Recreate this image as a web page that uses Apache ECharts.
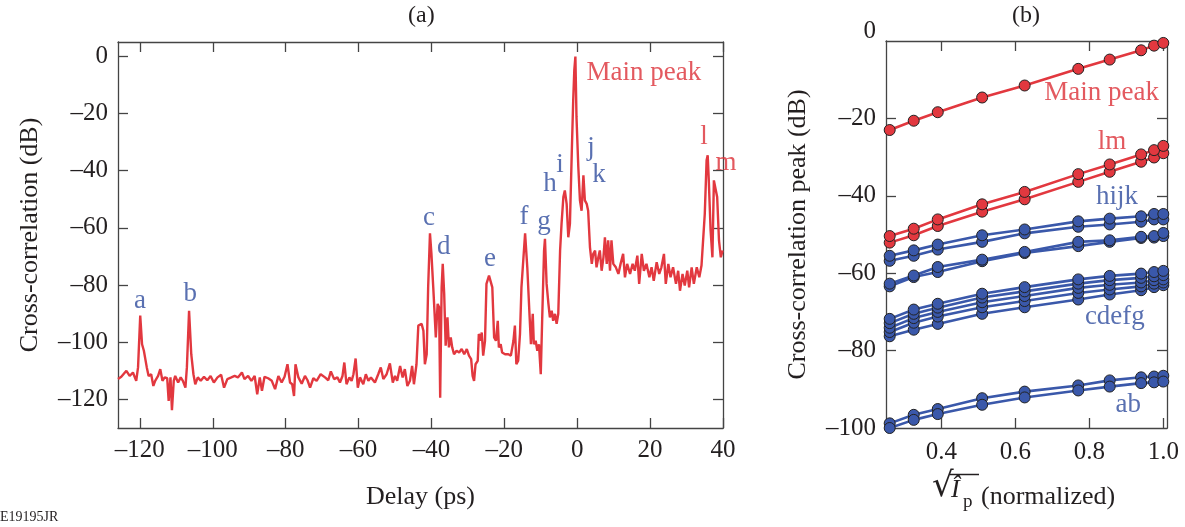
<!DOCTYPE html>
<html>
<head>
<meta charset="utf-8">
<script src="https://cdn.jsdelivr.net/npm/echarts@6/dist/echarts.min.js"></script>
<style>
  html, body { margin: 0; padding: 0; background: #fff; }
  #chart { width: 1185px; height: 527px; }
</style>
</head>
<body>
<div id="chart"></div>
<script>
// (a) cross-correlation trace
const delayPs = [
  -126, -125.1, -123.7, -122.8, -121.9, -121.0, -120.5, -119.9, -119.4, -118.9,
  -118.5, -118.1, -117.6, -116.9, -116.3, -115.8, -115.0, -114.4, -113.8, -113.2,
  -112.5, -112.1, -111.6, -111.2, -110.7, -110.3, -109.5, -108.8, -108.2, -107.5,
  -107.1, -106.5, -105.9, -105.3, -104.8, -104.1, -103.3, -102.4, -101.5, -100.6,
  -99.7, -98.7, -97.7, -96.9, -96.0, -94.9, -94.0, -93.1, -92.0, -91.3,
  -90.3, -89.4, -88.5, -87.8, -87.1, -86.5, -85.8, -84.8,
  -83.8, -82.9, -82.0, -81.1, -80.3, -79.5, -78.8, -78.2, -77.7, -77.3,
  -76.5, -75.6, -74.7, -74.0, -73.3, -72.4, -71.5, -70.4, -69.2, -68.3,
  -67.6, -66.7, -65.8, -65.1, -64.4, -63.9, -63.3, -62.5, -61.9, -61.4,
  -60.8, -60.2, -59.6, -58.7, -58.0, -57.3, -56.6, -55.5, -54.6, -53.9,
  -53.2, -52.3, -51.4, -50.6, -50.0, -49.4, -48.6, -47.9, -47.3, -46.6,
  -45.9, -45.3,
  -44.8, -44.1, -43.6, -43.1, -42.7, -42.2, -41.8, -41.3, -40.9, -40.4,
  -40.0, -39.5, -38.8, -38.3, -37.9, -37.6, -37.2, -36.9, -36.5, -36.1,
  -35.6, -35.2, -34.7, -34.3, -33.8, -33.1, -32.4, -31.7, -31.0, -30.3,
  -29.7, -29.1, -28.7, -28.3, -27.9, -27.3, -27.0, -26.5, -26.2, -25.8,
  -25.3, -24.9, -24.2, -23.7, -23.3, -22.8, -22.3, -21.8, -21.5, -21.0,
  -20.6, -19.8, -18.9, -18.2, -17.5, -17.1, -16.7, -16.2, -15.7, -15.3,
  -14.3, -13.7, -13.1, -12.7, -12.2, -11.9, -11.4, -10.95, -10.5, -10.0,
  -9.6, -9.1, -8.85, -8.4, -7.9, -7.5, -7.0, -6.6, -6.1, -5.65,
  -5.2, -4.7, -4.3, -3.8, -3.4, -2.9, -2.45, -2.0, -1.5, -1.1,
  -0.8, -0.5, -0.2, 0.3, 0.75, 1.2, 1.7, 2.1, 2.6, 3.0,
  3.5, 4.0, 4.4, 4.9, 5.3, 5.8,
  6.2, 6.7, 7.2, 7.6, 8.1, 8.5, 9.0, 9.4, 9.9, 10.6,
  11.3, 11.9, 12.6, 13.1, 13.7, 14.5, 15.2, 15.8, 16.5, 17.0,
  17.7, 18.3, 19.0, 19.8, 20.4, 21.0, 21.8, 22.5, 23.1, 23.8,
  24.3, 25.0, 25.6, 26.3, 27.1, 27.7, 28.2, 28.9, 29.5, 30.2,
  30.7, 31.4, 32.0, 32.8, 33.5, 34.1, 34.6, 35.0, 35.5, 35.8,
  36.1, 36.6, 37.1, 37.5, 38.0, 38.4, 38.9, 39.4, 39.9
];
const corrDb = [
  -112.9, -112.1, -110.0, -111.8, -110.6, -113.5, -108.8, -90.7, -100.7, -103.0,
  -102.8, -108.8, -111.8, -111.2, -115.3, -113.5, -111.8, -109.4, -113.5, -112.3,
  -112.6, -120.5, -112.3, -123.8, -113.5, -111.8, -114.1, -112.3, -113.5, -115.9,
  -108.8, -89.0, -104.2, -111.2, -114.7, -112.3, -113.5, -112.1, -113.3, -111.8,
  -114.1, -112.3, -111.4, -115.9, -112.9, -112.3, -111.8, -112.3, -110.6, -112.9,
  -111.8, -113.5, -111.8, -118.2, -112.3, -117.0, -112.1, -112.6,
  -113.5, -116.4, -111.8, -114.1, -112.1, -107.7, -114.1, -114.7, -118.8, -107.7,
  -112.3, -114.5, -111.8, -113.3, -115.9, -112.6, -113.5, -111.2, -112.3, -113.3,
  -110.2, -112.9, -112.3, -114.1, -111.8, -107.1, -114.7, -112.3, -113.5, -111.2,
  -105.7, -115.9, -112.3, -114.7, -111.2, -113.5, -112.3, -114.1, -111.2, -108.8,
  -112.9, -111.2, -107.4, -114.1, -111.8, -113.5, -108.3, -112.3, -109.4, -115.3,
  -113.5, -108.3,
  -114.7, -107.7, -94.2, -94.8, -93.6, -96.0, -107.7, -104.2, -80.8, -61.9,
  -69.1, -80.8, -98.3, -86.6, -87.8, -119.4, -80.8, -72.6, -83.1, -101.2,
  -91.3, -101.8, -98.3, -101.8, -104.2, -103.0, -103.6, -102.4, -104.2, -102.4,
  -104.7, -105.9, -111.8, -113.5, -107.7, -106.5, -97.1, -99.5, -96.6, -104.7,
  -99.5, -79.6, -76.7, -76.7, -80.8, -98.3, -99.5, -92.5, -101.8, -100.7,
  -103.6, -104.2, -104.2, -104.7, -99.5, -94.2, -107.7, -106.5, -97.1, -80.8,
  -61.9, -73.8, -90.1, -100.7, -90.1, -100.7, -99.5, -103.0, -100.7, -111.2,
  -91.3, -68.0, -63.8, -79.6, -86.6, -91.3, -89.0, -92.5, -90.1, -93.6,
  -90.1, -68.0, -58.6, -49.2, -46.9, -51.6, -63.3, -58.6, -34.0, -15.3,
  -4.8, -0.1, -21.2, -38.7, -50.4, -54.0, -41.6, -50.4, -51.6, -54.0,
  -66.8, -72.6, -69.1, -68.0, -73.8, -70.3,
  -67.9, -75.0, -70.3, -63.3, -72.6, -64.4, -75.0, -64.4, -72.6, -73.8,
  -76.1, -72.6, -69.1, -77.3, -72.6, -76.1, -72.6, -75.0, -69.7, -79.6,
  -69.1, -75.0, -72.6, -77.3, -73.8, -78.5, -72.0, -76.1, -73.8, -69.1,
  -79.6, -72.6, -77.3, -73.8, -79.6, -75.0, -82.0, -76.1, -80.2, -75.0,
  -80.8, -73.8, -79.6, -73.8, -77.3, -73.2, -72.6, -55.1, -36.4, -34.6,
  -43.4, -60.9, -70.3, -43.4, -42.8, -49.2, -64.4, -70.3, -67.9
];

// peak labels in (a): [name, delay, dB]
const peakLabelsBlue = [
  ['a', -120.0, -85.5], ['b', -106.2, -83.0], ['c', -40.7, -56.4], ['d', -36.6, -66.5],
  ['e', -23.9, -70.7], ['f', -14.6, -56.0], ['g', -9.1, -57.8], ['h', -7.5, -44.8],
  ['i', -4.7, -38.1], ['j', 3.8, -32.2], ['k', 6.0, -41.6]
];
const peakLabelsRed = [
  ['Main peak', 18.3, -5.9], ['l', 34.8, -28.3], ['m', 40.8, -37.4]
];

// (b) peak height vs sqrt(Ip)
const sqrtIp = [0.26, 0.325, 0.39, 0.51, 0.625, 0.77, 0.855, 0.94, 0.975, 1.0];
const mainPeak = [-23.0, -20.6, -18.4, -14.6, -11.5, -7.2, -4.8, -2.4, -1.2, -0.5];
const lmUpper = [-50.4, -48.5, -46.1, -42.2, -39.0, -34.4, -31.9, -29.3, -28.2, -27.1];
const lmLower = [-52.1, -50.2, -47.8, -44.1, -40.9, -36.4, -33.8, -31.2, -30.1, -29.0];
const hijk1 = [-55.5, -54.1, -52.6, -50.2, -48.7, -46.6, -45.9, -45.3, -44.7, -44.7];
const hijk2 = [-56.8, -55.5, -53.9, -51.9, -49.7, -48.0, -47.4, -46.7, -46.1, -46.1];
const hijk3 = [-62.7, -60.6, -58.4, -56.5, -54.5, -51.9, -51.5, -50.6, -50.4, -49.6];
const hijk4 = [-63.4, -61.0, -59.7, -56.9, -54.8, -53.0, -51.9, -50.9, -50.8, -50.4];
const cdefg1 = [-71.8, -69.4, -67.9, -65.3, -63.6, -61.6, -60.7, -60.1, -59.7, -59.4];
const cdefg2 = [-72.9, -70.5, -68.9, -66.3, -64.7, -62.7, -61.8, -61.2, -60.8, -60.5];
const cdefg3 = [-74.1, -71.6, -70.0, -67.5, -65.9, -63.8, -63.0, -62.4, -61.8, -61.6];
const cdefg4 = [-75.2, -72.8, -71.2, -68.8, -67.2, -65.1, -64.2, -63.4, -62.7, -62.4];
const cdefg5 = [-76.3, -74.6, -73.1, -70.5, -68.8, -66.8, -65.5, -64.4, -63.6, -63.1];
const ab1 = [-98.8, -96.6, -95.1, -92.3, -90.6, -89.0, -87.7, -86.9, -86.7, -86.5];
const ab2 = [-100.0, -97.9, -96.4, -94.0, -92.1, -90.3, -89.3, -88.4, -88.2, -88.0];

const groupLabels = [
  ['Main peak', 0.833, -13.3, 'red'], ['lm', 0.861, -26.1, 'red'],
  ['hijk', 0.875, -40.3, 'blue'], ['cdefg', 0.869, -71.3, 'blue'], ['ab', 0.905, -94.1, 'blue']
];

const RED = '#e2383f';
const BLUE = '#3a58aa';
const RED_TEXT = '#dc2f37';
const BLUE_TEXT = '#2f4c9e';
const INK = '#231f20';
const FONT = 'Liberation Serif';

const dash = v => String(v).replace('-', '\u2013');

function boxAxis(grid, pos, min, max, ticks, showLabels, fmt) {
  return {
    type: 'value', gridIndex: grid, position: pos, min: min, max: max,
    axisLine: {show: true, onZero: false, lineStyle: {color: '#444', width: 1.3}},
    axisTick: {show: true, inside: true, length: 10, customValues: ticks,
      lineStyle: {color: '#444', width: 1.3}},
    axisLabel: {show: showLabels, customValues: ticks, formatter: fmt,
      fontFamily: FONT, fontSize: 25, color: INK, margin: 10},
    splitLine: {show: false}
  };
}

const aX = [-120, -100, -80, -60, -40, -20, 0, 20, 40];
const aY = [-120, -100, -80, -60, -40, -20, 0];
const bX = [0.4, 0.6, 0.8, 1.0];
const bY = [-100, -80, -60, -40, -20, 0];

const xAxes = [
  boxAxis(0, 'bottom', -126, 40, aX, true, dash),
  boxAxis(0, 'top', -126, 40, aX, false),
  boxAxis(1, 'bottom', 0.25, 1.01, bX, true, v => v.toFixed(1)),
  boxAxis(1, 'top', 0.25, 1.01, bX, false)
];
xAxes[0].name = 'Delay (ps)';
xAxes[0].nameLocation = 'middle';
xAxes[0].nameGap = 56;
xAxes[0].nameTextStyle = {fontFamily: FONT, fontSize: 26, color: INK};
xAxes[2].axisLabel.margin = 12;

const yAxes = [
  boxAxis(0, 'left', -130, 5, aY, true, dash),
  boxAxis(0, 'right', -130, 5, aY, false),
  boxAxis(1, 'left', -100, 0, bY, true, v => v === 0 ? '{top|0}' : dash(v)),
  boxAxis(1, 'right', -100, 0, [-80, -60, -40, -20], false)
];
yAxes[0].name = 'Cross-correlation (dB)';
yAxes[2].name = 'Cross-correlation peak (dB)';
[0, 2].forEach(i => {
  yAxes[i].nameLocation = 'middle';
  yAxes[i].nameGap = 75;
  yAxes[i].nameRotate = 90;
  yAxes[i].nameTextStyle = {fontFamily: FONT, fontSize: 26, color: INK};
});
yAxes[2].axisTick.customValues = [-80, -60, -40, -20];
yAxes[2].axisLabel.rich = {top: {fontFamily: FONT, fontSize: 25, color: INK, padding: [0, 0, 20, 0]}};

function curve(name, ys, color) {
  return {
    name: name, type: 'line', xAxisIndex: 2, yAxisIndex: 2,
    data: sqrtIp.map((x, i) => [x, ys[i]]),
    symbol: 'circle', symbolSize: 11, showSymbol: true,
    lineStyle: {color: color, width: 2.6},
    itemStyle: {color: color, borderColor: '#222', borderWidth: 1},
    z: 3
  };
}

function textSeries(xi, yi, items, colorOf) {
  return {
    type: 'scatter', xAxisIndex: xi, yAxisIndex: yi, symbolSize: 0, clip: false, silent: true, z: 10,
    data: items.map(it => ({name: it[0], value: [it[1], it[2]],
      label: {color: colorOf(it)}})),
    label: {show: true, position: 'inside', formatter: '{b}',
      fontFamily: FONT, fontSize: 27}
  };
}

const chart = echarts.init(document.getElementById('chart'), null, {renderer: 'canvas'});

chart.setOption({
  animation: false,
  backgroundColor: '#fff',
  grid: [
    {left: 118, top: 42, width: 605, height: 386},
    {left: 886, top: 41, width: 281, height: 387}
  ],
  xAxis: xAxes,
  yAxis: yAxes,
  series: [
    {
      name: 'trace', type: 'line', xAxisIndex: 0, yAxisIndex: 0,
      data: delayPs.map((x, i) => [x, corrDb[i]]),
      showSymbol: false, lineStyle: {color: RED, width: 2.4}, z: 2
    },
    textSeries(0, 0, peakLabelsBlue, () => BLUE_TEXT),
    textSeries(0, 0, peakLabelsRed, () => RED_TEXT),
    curve('ab1', ab1, BLUE),
    curve('ab2', ab2, BLUE),
    curve('cdefg5', cdefg5, BLUE),
    curve('cdefg4', cdefg4, BLUE),
    curve('cdefg3', cdefg3, BLUE),
    curve('cdefg2', cdefg2, BLUE),
    curve('cdefg1', cdefg1, BLUE),
    curve('hijk4', hijk4, BLUE),
    curve('hijk3', hijk3, BLUE),
    curve('hijk2', hijk2, BLUE),
    curve('hijk1', hijk1, BLUE),
    curve('lmLower', lmLower, RED),
    curve('lmUpper', lmUpper, RED),
    curve('mainPeak', mainPeak, RED),
    textSeries(2, 2, groupLabels, it => it[3] === 'red' ? RED_TEXT : BLUE_TEXT)
  ],
  graphic: [
    {type: 'text', left: 408, top: 4, style: {text: '(a)', font: '24px "Liberation Serif"', fill: INK}},
    {type: 'text', left: 1012, top: 4, style: {text: '(b)', font: '24px "Liberation Serif"', fill: INK}},
    {type: 'text', left: 0, top: 510, style: {text: 'E19195JR', font: '14px "Liberation Serif"', fill: INK}},
    // x title of (b): sqrt(I_p) (normalized)
    {type: 'text', left: 932, top: 470, style: {text: '\u221A', font: '34px "DejaVu Serif"', fill: INK}},
    {type: 'line', shape: {x1: 950, y1: 474.5, x2: 979, y2: 474.5}, style: {stroke: INK, lineWidth: 1.5}},
    {type: 'text', left: 951, top: 477, style: {text: '\u00CE', font: 'italic 26px "Liberation Serif"', fill: INK}},
    {type: 'text', left: 963, top: 493, style: {text: 'p', font: '19px "Liberation Serif"', fill: INK}},
    {type: 'text', left: 981, top: 484, style: {text: '(normalized)', font: '26px "Liberation Serif"', fill: INK}}
  ]
});
</script>
</body>
</html>
